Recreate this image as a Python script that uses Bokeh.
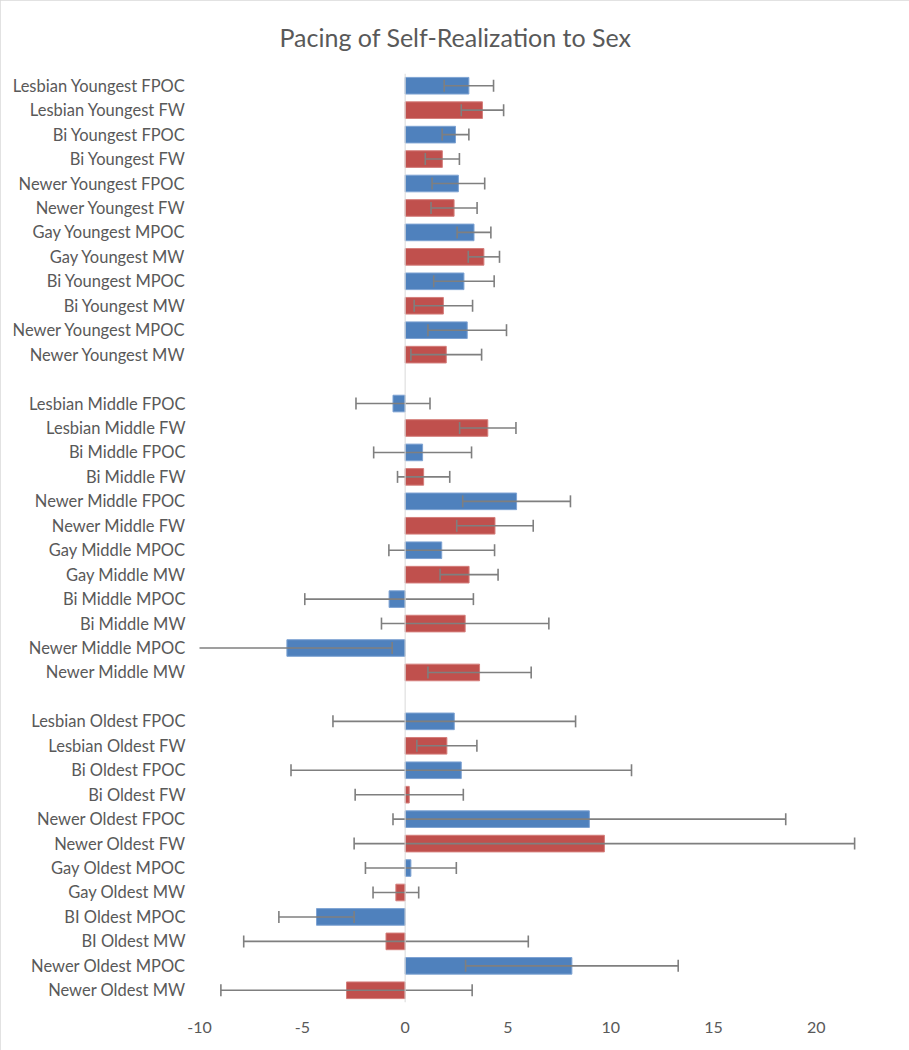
from bokeh.plotting import figure
from bokeh.models import FactorRange, Range1d, Span, ColumnDataSource, FixedTicker
from bokeh.embed import file_html
from bokeh.resources import INLINE
import math

# ---- data ----
youngest_labels = ["Lesbian Youngest FPOC", "Lesbian Youngest FW", "Bi Youngest FPOC", "Bi Youngest FW",
                   "Newer Youngest FPOC", "Newer Youngest FW", "Gay Youngest MPOC", "Gay Youngest MW",
                   "Bi Youngest MPOC", "Bi Youngest MW", "Newer Youngest MPOC", "Newer Youngest MW"]
youngest_values = [3.10, 3.76, 2.45, 1.81, 2.59, 2.38, 3.35, 3.83, 2.86, 1.86, 3.02, 2.00]
youngest_errors = [1.20, 1.03, 0.65, 0.83, 1.28, 1.12, 0.82, 0.76, 1.47, 1.42, 1.91, 1.72]

middle_labels = ["Lesbian Middle FPOC", "Lesbian Middle FW", "Bi Middle FPOC", "Bi Middle FW",
                 "Newer Middle FPOC", "Newer Middle FW", "Gay Middle MPOC", "Gay Middle MW",
                 "Bi Middle MPOC", "Bi Middle MW", "Newer Middle MPOC", "Newer Middle MW"]
middle_values = [-0.59, 4.02, 0.85, 0.90, 5.42, 4.37, 1.78, 3.11, -0.78, 2.92, -5.75, 3.62]
middle_errors = [1.80, 1.37, 2.38, 1.27, 2.62, 1.86, 2.57, 1.41, 4.10, 4.07, 5.12, 2.51]

oldest_labels = ["Lesbian Oldest FPOC", "Lesbian Oldest FW", "Bi Oldest FPOC", "Bi Oldest FW",
                 "Newer Oldest FPOC", "Newer Oldest FW", "Gay Oldest MPOC", "Gay Oldest MW",
                 "BI Oldest MPOC", "BI Oldest MW", "Newer Oldest MPOC", "Newer Oldest MW"]
oldest_values = [2.39, 2.03, 2.73, 0.20, 8.96, 9.69, 0.28, -0.45, -4.31, -0.93, 8.11, -2.85]
oldest_errors = [5.90, 1.46, 8.28, 2.63, 9.55, 12.17, 2.21, 1.11, 1.83, 6.92, 5.17, 6.11]

x_ticks = [-10, -5, 0, 5, 10, 15, 20]
x_tick_labels = ["-10", "-5", "0", "5", "10", "15", "20"]

TITLE = "Pacing of Self-Realization to Sex"
POC_COLOR = "#4F81BD"
W_COLOR = "#C0504D"
TEXT = "#595959"
FONT = "Lato"

labels = youngest_labels + middle_labels + oldest_labels
values = youngest_values + middle_values + oldest_values
errors = youngest_errors + middle_errors + oldest_errors
colors = [POC_COLOR if l.endswith("POC") else W_COLOR for l in labels]
edges = ["#7EA3D3" if l.endswith("POC") else "#D47E7B" for l in labels]

factors = youngest_labels + [" "] + middle_labels + ["  "] + oldest_labels

src = ColumnDataSource(dict(
    y=labels, v=values, lo=[v - e for v, e in zip(values, errors)],
    hi=[v + e for v, e in zip(values, errors)], c=colors, ec=edges,
))

p = figure(width=909, height=1050, output_backend="svg", toolbar_location=None,
           y_range=FactorRange(factors=list(reversed(factors))),
           x_range=Range1d(-10, 22),
           min_border_left=199, min_border_right=52, min_border_top=73, min_border_bottom=48)
p.styles = {"outline": "1px solid #D9D9D9", "outline-offset": "-1px"}

p.title.text = TITLE
p.title.align = "left"
p.title.offset = 80
p.title.vertical_align = "top"
p.title.text_font = FONT
p.title.text_font_style = "normal"
p.title.text_font_size = "25px"
p.title.text_color = TEXT
p.title.standoff = 40

p.hbar(y="y", left=0, right="v", height=0.68, fill_color="c", line_color="ec", line_width=1, source=src)
p.add_layout(Span(location=0, dimension="height", line_color="#D9D9D9", line_width=1))
p.segment(x0="lo", x1="hi", y0="y", y1="y", line_color="#7F7F7F", line_width=1.6, source=src)
p.scatter(x="lo", y="y", marker="dash", angle=math.pi / 2, size=12, line_color="#7F7F7F", line_width=1.6, source=src)
p.scatter(x="hi", y="y", marker="dash", angle=math.pi / 2, size=12, line_color="#7F7F7F", line_width=1.6, source=src)

p.xgrid.visible = False
p.ygrid.visible = False
p.outline_line_color = None

p.xaxis.ticker = FixedTicker(ticks=x_ticks)
p.xaxis.major_label_overrides = {t: s for t, s in zip(x_ticks, x_tick_labels)}
for ax in (p.xaxis[0], p.yaxis[0]):
    ax.axis_line_color = None
    ax.major_tick_line_color = None
    ax.minor_tick_line_color = None
    ax.major_label_text_font = FONT
    ax.major_label_text_color = TEXT
p.xaxis.major_label_text_font_size = "16px"
p.xaxis.major_label_standoff = 13
p.yaxis.major_label_text_font_size = "16.5px"
p.yaxis.major_label_standoff = 8

open("out.html", "w").write(file_html(p, INLINE))
